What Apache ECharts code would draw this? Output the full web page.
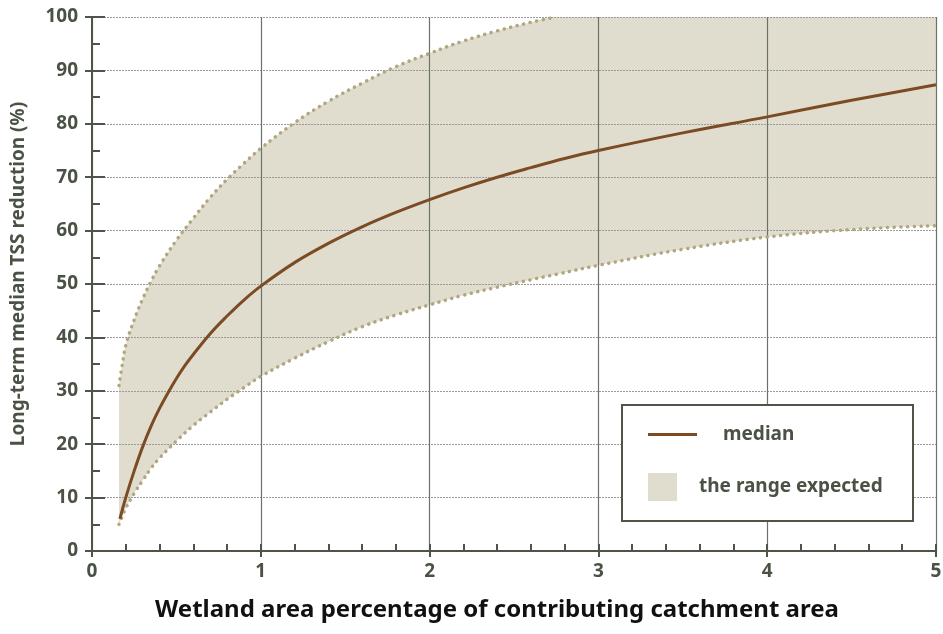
<!DOCTYPE html>
<html>
<head>
<meta charset="utf-8">
<script src="https://cdn.jsdelivr.net/npm/echarts@6/dist/echarts.min.js"></script>
<style>html,body{margin:0;padding:0;background:#fff}#c{width:943px;height:634px}</style>
</head>
<body>
<div id="c"></div>
<script>
// ---- data ----
const bandX  = [0.16,0.18,0.2,0.25,0.3,0.35,0.4,0.5,0.6,0.7,0.8,0.9,1.0,1.2,1.4,1.6,1.8,2.0,2.2,2.4,2.6,2.75,3.0,3.5,4.0,4.5,5.0];
const lowerY = [5,6.5,8,10.8,13.2,15.5,17.4,20.6,23.5,26.0,28.4,30.6,32.7,36.1,39.2,42.0,44.2,46.1,47.9,49.4,50.8,51.8,53.5,56.5,58.8,60.2,60.9];
const upperY = [31,35,38.5,43.3,47.2,50.5,53.4,58.2,62.3,66.2,69.6,72.6,75.4,80.2,84.2,87.6,90.7,93.2,95.5,97.4,99.0,100,100,100,100,100,100];
const medianX = [0.165,0.2,0.25,0.3,0.35,0.4,0.45,0.5,0.55,0.6,0.7,0.8,0.9,1.0,1.2,1.4,1.6,1.8,2.0,2.2,2.4,2.6,2.8,3.0,3.5,4.0,4.5,5.0];
const medianY = [6,10,15,19.5,23.4,26.7,29.6,32.3,34.7,36.8,40.7,44.0,47.0,49.6,54.0,57.6,60.7,63.4,65.8,68.0,70.0,71.8,73.5,75.0,78.3,81.3,84.4,87.3];
const xTicks = [0,1,2,3,4,5];
const yTicks = [0,10,20,30,40,50,60,70,80,90,100];
const medianName = 'median';
const rangeName = 'the range expected';
const xTitle = 'Wetland area percentage of contributing catchment area';
const yTitle = 'Long-term median TSS reduction (%)';

// ---- derived ----
const lowerData = bandX.map((x,i)=>[x, lowerY[i]]);
const upperData = bandX.map((x,i)=>[x, upperY[i]]);
const upperLineData = upperData.filter(p=>p[0] <= 2.75);
const medianData = medianX.map((x,i)=>[x, medianY[i]]);

const FONT = 'Noto Sans';
const TXT = '#4a5245';
const AX = '#4d5548';
const FILL = '#e0ddcf';
const DOT = '#b0a67f';
const MED = '#7b4b24';
const SM = 0.4;

const chart = echarts.init(document.getElementById('c'), null, {renderer:'canvas'});
chart.setOption({
  animation:false,
  backgroundColor:'#fff',
  grid:{left:92,right:7,top:17,bottom:83,containLabel:false,outerBoundsMode:'none'},
  xAxis:[{
    type:'value',min:xTicks[0],max:xTicks[xTicks.length-1],interval:1,z:3,
    name:xTitle,nameLocation:'middle',nameGap:47,
    nameTextStyle:{fontFamily:FONT,fontWeight:'bold',fontSize:24,color:'#111',padding:[0,34,0,0]},
    axisLine:{show:true,onZero:false,lineStyle:{color:AX,width:2}},
    axisTick:{show:true,inside:false,length:6,lineStyle:{color:AX,width:2}},
    axisLabel:{margin:11,fontFamily:FONT,fontWeight:'bold',fontSize:19,color:TXT},
    splitLine:{show:true,lineStyle:{color:'#6b7267',width:1.2,type:'solid'}}
  },{
    type:'value',min:0,max:5,interval:1,position:'bottom',z:3,
    axisLine:{show:false},axisLabel:{show:false},splitLine:{show:false},
    axisTick:{show:true,inside:true,length:7,lineStyle:{color:AX,width:2}},
    minorTick:{show:true,splitNumber:5,length:7,lineStyle:{color:AX,width:2}}
  }],
  yAxis:[{
    type:'value',min:yTicks[0],max:yTicks[yTicks.length-1],interval:10,z:3,
    name:yTitle,nameLocation:'middle',nameGap:64,nameRotate:90,
    nameTextStyle:{fontFamily:FONT,fontWeight:'bold',fontSize:19,color:TXT,padding:[0,0,0,20]},
    axisLine:{show:true,onZero:false,lineStyle:{color:AX,width:2}},
    axisTick:{show:true,inside:false,length:7,lineStyle:{color:AX,width:2}},
    axisLabel:{margin:14,fontFamily:FONT,fontWeight:'bold',fontSize:19,color:TXT},
    splitLine:{show:true,lineStyle:{color:'#9a9a9a',width:1,type:[2,1]}}
  },{
    type:'value',min:0,max:100,interval:10,position:'left',z:3,
    axisLine:{show:false},axisLabel:{show:false},splitLine:{show:false},
    axisTick:{show:true,inside:true,length:13,lineStyle:{color:AX,width:2}},
    minorTick:{show:true,splitNumber:2,length:8,lineStyle:{color:AX,width:2}}
  }],
  legend:[{
    left:648,top:425,padding:0,orient:'horizontal',selectedMode:false,z:12,
    itemWidth:49,itemHeight:3,
    data:[{name:medianName,icon:'rect',itemStyle:{color:MED}}],
    textStyle:{fontFamily:FONT,fontWeight:'bold',fontSize:19,color:TXT,padding:[0,0,0,21]}
  },{
    left:648,top:473,padding:0,orient:'horizontal',selectedMode:false,z:12,
    itemWidth:29,itemHeight:28,
    data:[{name:rangeName,icon:'rect',itemStyle:{color:FILL}}],
    textStyle:{fontFamily:FONT,fontWeight:'bold',fontSize:19,color:TXT,padding:[0,0,0,17]}
  }],
  graphic:[{
    type:'rect',z:10,
    shape:{x:622,y:405,width:291,height:116},
    style:{fill:'#fff',stroke:AX,lineWidth:2}
  }],
  series:[{
    name:rangeName,type:'line',data:upperData,smooth:SM,
    symbol:'none',silent:true,lineStyle:{opacity:0,width:0},
    itemStyle:{color:FILL},
    areaStyle:{color:FILL,opacity:1,origin:'start'},z:1
  },{
    name:'lowerMask',type:'line',data:lowerData,smooth:SM,
    symbol:'none',silent:true,lineStyle:{opacity:0,width:0},
    areaStyle:{color:'#ffffff',opacity:1,origin:'start'},z:1
  },{
    name:'lowerEdge',type:'line',data:lowerData,smooth:SM,symbol:'none',silent:true,z:4,
    lineStyle:{color:DOT,width:3.5,type:[0.1,6.6],cap:'round'}
  },{
    name:'upperEdge',type:'line',data:upperLineData,smooth:SM,symbol:'none',silent:true,z:4,
    lineStyle:{color:DOT,width:3.5,type:[0.1,6.6],cap:'round'}
  },{
    name:medianName,type:'line',data:medianData,smooth:SM,symbol:'none',z:5,
    itemStyle:{color:MED},
    lineStyle:{color:MED,width:3}
  }]
});
</script>
</body>
</html>
